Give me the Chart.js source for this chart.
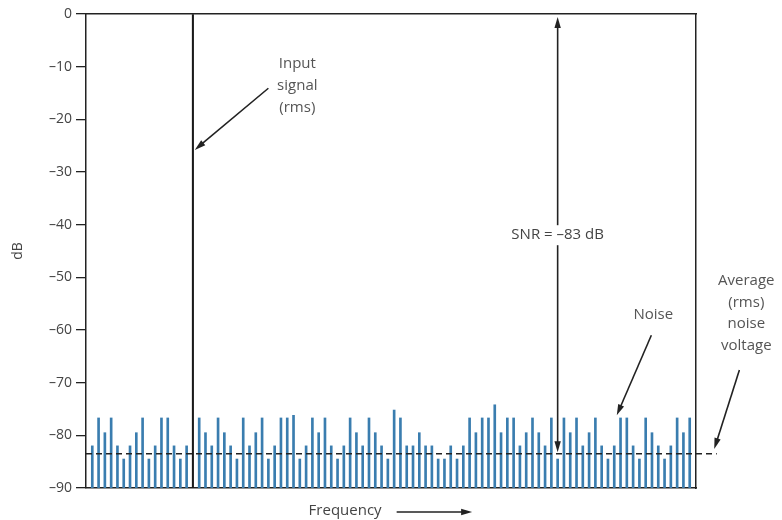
<!DOCTYPE html>
<html>
<head>
<meta charset="utf-8">
<script src="https://cdn.jsdelivr.net/npm/chart.js@4.4.0/dist/chart.umd.min.js"></script>
<style>
  html, body { margin: 0; padding: 0; background: #fff; }
  #wrap { width: 782px; height: 520px; }
</style>
</head>
<body>
<div id="wrap"><canvas id="myChart"></canvas></div>
<script>
// noise level of each frequency bin (dB), bin 17 holds the input signal
const noiseLevels = [
  -82, -76.7, -79.5, -76.7, -82, -84.5, -82, -79.5, -76.7, -84.5,
  -82, -76.7, -76.7, -82, -84.5, -82, null, -76.7, -79.5, -82,
  -76.7, -79.5, -82, -84.5, -76.7, -82, -79.5, -76.7, -84.5, -82,
  -76.7, -76.7, -76.2, -84.5, -82, -76.7, -79.5, -76.7, -82, -84.5,
  -82, -76.7, -79.5, -82, -76.7, -79.5, -82, -84.5, -75.2, -76.7,
  -82, -82, -79.5, -82, -82, -84.5, -84.5, -82, -84.5, -82,
  -76.7, -79.5, -76.7, -76.7, -74.2, -79.5, -76.7, -76.7, -82, -79.5,
  -76.7, -79.5, -82, -76.7, -84.5, -76.7, -79.5, -76.7, -82, -79.5,
  -76.7, -82, -84.5, -82, -76.7, -76.7, -82, -84.5, -76.7, -79.5,
  -82, -84.5, -82, -76.7, -79.5, -76.7
];
const bins = noiseLevels.map((v, i) => i + 1);
const signalBin = 17;
const signalLevel = 0;
const averageNoise = -83.5;
const snrBin = 75;
const snrValue = -83;
const floorDb = -90;
const yTicks = [0, -10, -20, -30, -40, -50, -60, -70, -80, -90];

const FONT = '"Open Sans", "Noto Sans", sans-serif';

function arrow(ctx, x1, y1, x2, y2) {
  const a = Math.atan2(y2 - y1, x2 - x1);
  const len = 11, half = 3.2;
  ctx.beginPath();
  ctx.moveTo(x1, y1);
  ctx.lineTo(x2 - Math.cos(a) * len * 0.8, y2 - Math.sin(a) * len * 0.8);
  ctx.stroke();
  ctx.beginPath();
  ctx.moveTo(x2, y2);
  ctx.lineTo(x2 - Math.cos(a) * len - Math.sin(a) * half, y2 - Math.sin(a) * len + Math.cos(a) * half);
  ctx.lineTo(x2 - Math.cos(a) * len + Math.sin(a) * half, y2 - Math.sin(a) * len - Math.cos(a) * half);
  ctx.closePath();
  ctx.fill();
}

const notes = {
  id: 'notes',
  afterDraw(chart) {
    const { ctx, scales: { x, y } } = chart;
    const px = v => x.getPixelForValue(v);
    const py = v => y.getPixelForValue(v);
    ctx.save();
    ctx.font = '15px ' + FONT;
    ctx.textAlign = 'center';
    ctx.textBaseline = 'middle';
    ctx.strokeStyle = '#222';
    ctx.lineWidth = 1.6;

    // input signal
    ctx.fillStyle = '#555';
    ctx.fillText('Input', px(33.6), py(-9.4));
    ctx.fillText('signal', px(33.6), py(-13.6));
    ctx.fillText('(rms)', px(33.6), py(-17.8));
    ctx.fillStyle = '#222';
    arrow(ctx, px(29), py(-14.1), px(17.3), py(-25.8));

    // SNR double arrow
    const sx = px(snrBin);
    arrow(ctx, sx, py(-42), sx, py(signalLevel) + 3);
    arrow(ctx, sx, py(-42), sx, py(snrValue) + 1);
    const lbl = 'SNR = \u201383 dB';
    const w = ctx.measureText(lbl).width;
    ctx.fillStyle = '#fff';
    ctx.fillRect(sx - w / 2 - 4, py(-42) - 10, w + 8, 20);
    ctx.fillStyle = '#444';
    ctx.fillText(lbl, sx, py(-42));

    // noise
    ctx.fillStyle = '#555';
    ctx.fillText('Noise', px(90.2), py(-57.1));
    ctx.fillStyle = '#222';
    arrow(ctx, px(89.9), py(-61), px(84.4), py(-76.2));

    // average noise voltage
    ctx.fillStyle = '#555';
    ['Average', '(rms)', 'noise', 'voltage'].forEach((t, i) => {
      ctx.fillText(t, px(105), py(-50.7 - i * 4.1));
    });
    ctx.fillStyle = '#222';
    arrow(ctx, px(103.9), py(-67.6), px(99.9), py(-82.6));

    // frequency axis label
    ctx.fillStyle = '#444';
    ctx.fillText('Frequency', px(41.2), chart.chartArea.bottom + 23);
    ctx.fillStyle = '#222';
    arrow(ctx, px(49.4), chart.chartArea.bottom + 24, px(61.4), chart.chartArea.bottom + 24);
    ctx.restore();
  }
};

new Chart('myChart', {
  type: 'bar',
  data: {
    datasets: [{
      label: 'Noise',
      data: bins.map((b, i) => ({ x: b, y: noiseLevels[i] === null ? null : [floorDb, noiseLevels[i]] })),
      backgroundColor: '#3a7daf',
      barThickness: 2,
      order: 2
    }, {
      label: 'Input signal',
      data: [{ x: signalBin, y: [floorDb, signalLevel] }],
      backgroundColor: '#1a1a1a',
      barThickness: 1.4,
      order: 1
    }, {
      type: 'line',
      label: 'Average noise',
      data: [{ x: 0, y: averageNoise }, { x: 100.3, y: averageNoise }],
      borderColor: '#222',
      borderWidth: 1.3,
      borderDash: [6, 4],
      pointRadius: 0,
      clip: false,
      order: 0
    }]
  },
  options: {
    responsive: true,
    maintainAspectRatio: false,
    animation: false,
    grouped: false,
    layout: { padding: { left: 0, right: 86, top: 14, bottom: 32 } },
    plugins: { legend: { display: false }, tooltip: { enabled: false } },
    scales: {
      x: {
        type: 'linear', min: 0, max: 97, offset: false,
        ticks: { display: false },
        grid: { display: false },
        border: { display: true, color: '#222', width: 1.5 },
        afterFit: s => { s.height = 0; }
      },
      xTop: {
        type: 'linear', position: 'top', min: 0, max: 97, offset: false,
        ticks: { display: false },
        grid: { display: false },
        border: { display: true, color: '#222', width: 1.5 },
        afterFit: s => { s.height = 0; }
      },
      y: {
        min: floorDb, max: 0,
        afterBuildTicks: s => { s.ticks = yTicks.map(v => ({ value: v })); },
        ticks: {
          color: '#444',
          font: { family: FONT, size: 14 },
          padding: 4,
          callback: v => v === 0 ? '0' : '\u2013' + Math.abs(v)
        },
        grid: { drawOnChartArea: false, drawTicks: true, tickLength: 10, color: '#222', lineWidth: 1.3 },
        border: { display: true, color: '#222', width: 1.5 },
        title: { display: true, text: 'dB', color: '#444', font: { family: FONT, size: 14 }, padding: { top: 10 } },
        afterFit: s => { s.width = 86; }
      },
      yRight: {
        position: 'right', min: floorDb, max: 0,
        ticks: { display: false },
        grid: { display: false },
        border: { display: true, color: '#222', width: 1.5 },
        afterFit: s => { s.width = 0; }
      }
    }
  },
  plugins: [notes]
});
</script>
</body>
</html>
